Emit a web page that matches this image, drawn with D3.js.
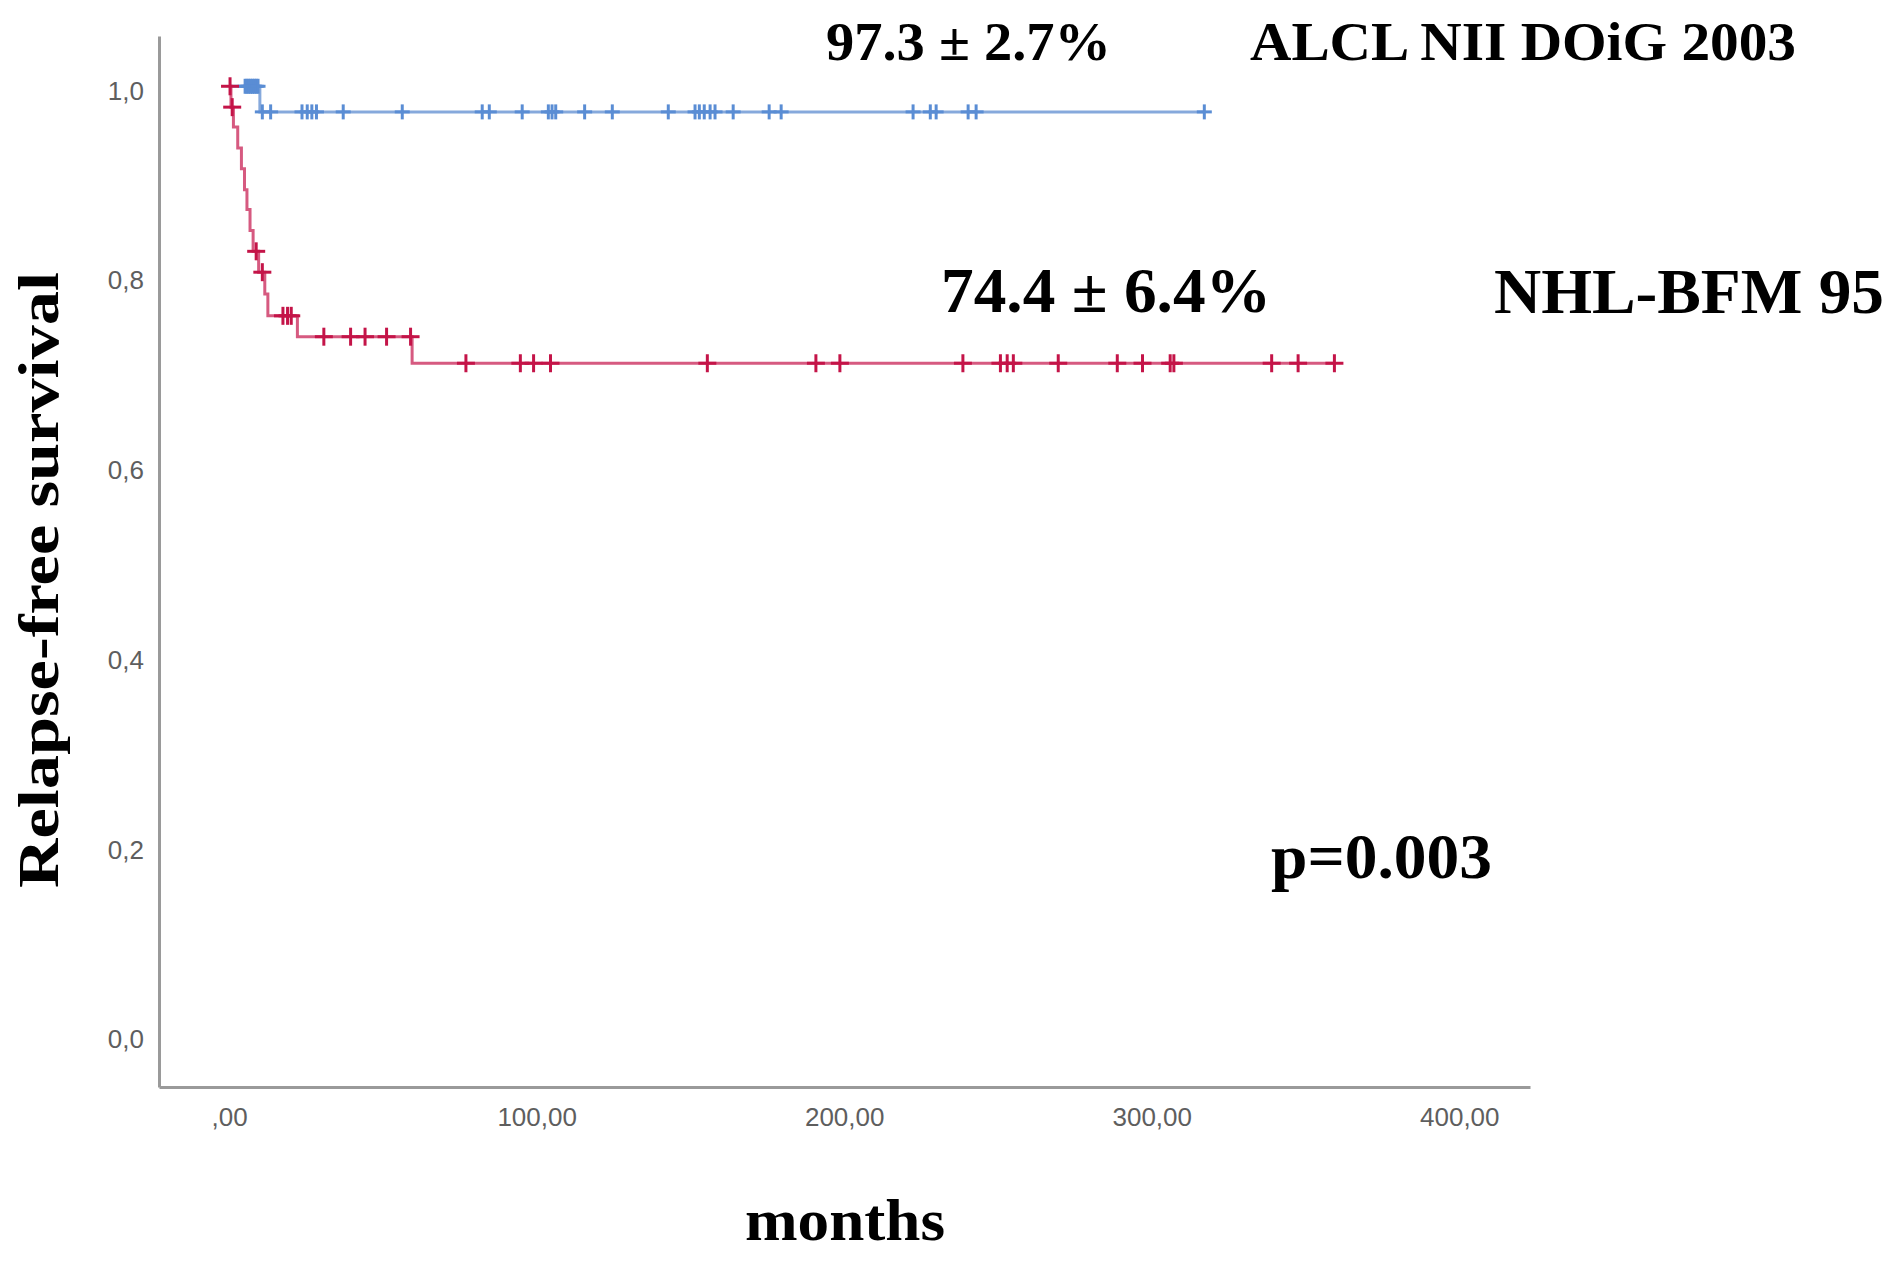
<!DOCTYPE html>
<html>
<head>
<meta charset="utf-8">
<script src="https://cdn.jsdelivr.net/npm/d3@7"></script>
<style>
  body { margin: 0; background: #fff; }
  svg { display: block; }
</style>
</head>
<body>
<div id="chart"></div>
<script>
// NHL-BFM 95 (red): event times (months) and survival after each event
const nhlEventMonths = [0.6, 1.4, 2.8, 4.0, 5.0, 5.8, 6.8, 7.8, 9.6, 11.6, 12.6, 22.2, 59.5];
const nhlSurvival = [0.978, 0.957, 0.935, 0.913, 0.891, 0.870, 0.848, 0.826, 0.804, 0.781, 0.758, 0.736, 0.708];
const nhlCensored = [0.3, 1.0, 8.8, 10.8, 17.5, 19.0, 20.2, 30.8, 39.5, 44.2, 51.2, 59.0,
    77, 94.7, 99, 104.5, 155.5, 190.8, 198.6, 238.6, 250.8, 253, 255, 269.6, 288.8, 297, 306, 307.2, 339, 347.6, 359.4];

// ALCL NII DOiG 2003 (blue)
const alclEventMonths = [10.0];
const alclSurvival = [0.973];
const alclCensored = [5.2, 5.8, 6.4, 7.0, 7.6, 8.2, 8.8, 9.4,
    10.8, 13.5, 23.7, 25.4, 26.9, 28.4, 37.1, 56.3, 82.3, 84.6, 95.3, 103.8, 105, 106.2, 115.6, 124.6,
    142.8, 151.5, 152.9, 154.5, 156.4, 158, 163.9, 175.6, 179.5, 222.4, 228, 229.9, 240.3, 242.9, 317.1];

const xTicks = [0, 100, 200, 300, 400];
const yTicks = [0, 0.2, 0.4, 0.6, 0.8, 1.0];

const width = 1894, height = 1262;

const svg = d3.select("#chart").append("svg")
    .attr("width", width)
    .attr("height", height);

const x = d3.scaleLinear().domain([-22.8, 423]).range([159, 1530]);
const y = d3.scaleLinear().domain([-0.055, 1.053]).range([1087, 36]);

// axes
const comma = s => s.replace(".", ",");
const yAxis = svg.append("g")
    .attr("transform", `translate(${x(-22.8)},0)`)
    .call(d3.axisLeft(y).tickValues(yTicks).tickSize(0).tickPadding(15)
        .tickFormat(d => comma(d3.format(".1f")(d))));
const xAxis = svg.append("g")
    .attr("transform", `translate(0,${y(-0.055)})`)
    .call(d3.axisBottom(x).tickValues(xTicks).tickSize(0).tickPadding(21)
        .tickFormat(d => d === 0 ? ",00" : comma(d3.format(".2f")(d))));

[yAxis, xAxis].forEach(g => {
    g.select(".domain").attr("stroke", "#9a9a9a").attr("stroke-width", 3);
    g.selectAll("text")
        .attr("fill", "#5e5e5e")
        .style("font-family", "Liberation Sans, Arial, sans-serif")
        .style("font-size", "26px");
});
yAxis.selectAll("text").attr("dy", "0.5em");

// survival curves
function stepPoints(events, surv, end) {
    const pts = [{ t: 0, s: 1 }];
    events.forEach((t, i) => pts.push({ t: t, s: surv[i] }));
    pts.push({ t: end, s: surv[surv.length - 1] });
    return pts;
}
function survAt(events, surv, t) {
    let s = 1;
    events.forEach((e, i) => { if (e <= t) s = surv[i]; });
    return s;
}

const line = d3.line()
    .x(d => x(d.t))
    .y(d => y(d.s))
    .curve(d3.curveStepAfter);

const groups = [
    { events: alclEventMonths, surv: alclSurvival, cens: alclCensored, line: "#86a9dc", mark: "#5a8dd4", half: 7.5 },
    { events: nhlEventMonths, surv: nhlSurvival, cens: nhlCensored, line: "#d65a80", mark: "#c41448", half: 9 }
];

groups.forEach(g => {
    const end = d3.max(g.cens);
    svg.append("path")
        .datum(stepPoints(g.events, g.surv, end))
        .attr("fill", "none")
        .attr("stroke", g.line)
        .attr("stroke-width", 3)
        .attr("d", line);

    const marks = svg.append("g").selectAll("g")
        .data(g.cens.map(t => ({ t: t, s: survAt(g.events, g.surv, t) })))
        .join("g")
        .attr("transform", d => `translate(${x(d.t)},${y(d.s)})`)
        .attr("stroke", g.mark)
        .attr("stroke-width", 3);
    marks.append("line").attr("x1", -g.half).attr("x2", g.half);
    marks.append("line").attr("y1", -g.half).attr("y2", g.half);
});

// annotations
const serif = "Liberation Serif, Times New Roman, serif";
function label(txt, xPos, yPos, size, len) {
    svg.append("text")
        .attr("x", xPos)
        .attr("y", yPos)
        .attr("textLength", len)
        .attr("lengthAdjust", "spacingAndGlyphs")
        .style("font-family", serif)
        .style("font-weight", "bold")
        .style("font-size", size + "px")
        .attr("fill", "#000")
        .text(txt);
}
label("97.3 \u00b1 2.7%", 826, 60, 55, 285);
label("ALCL NII DOiG 2003", 1250, 60, 55, 546);
label("74.4 \u00b1 6.4%", 941, 312, 63, 330);
label("NHL-BFM 95", 1494, 313, 63, 390);
label("p=0.003", 1271, 878, 63, 221);

svg.append("text")
    .attr("x", 745)
    .attr("y", 1240)
    .attr("textLength", 200)
    .attr("lengthAdjust", "spacingAndGlyphs")
    .style("font-family", serif)
    .style("font-weight", "bold")
    .style("font-size", "60px")
    .text("months");

svg.append("text")
    .attr("transform", "translate(58,580) rotate(-90)")
    .attr("text-anchor", "middle")
    .attr("textLength", 616)
    .attr("lengthAdjust", "spacingAndGlyphs")
    .style("font-family", serif)
    .style("font-weight", "bold")
    .style("font-size", "58px")
    .text("Relapse-free survival");
</script>
</body>
</html>
